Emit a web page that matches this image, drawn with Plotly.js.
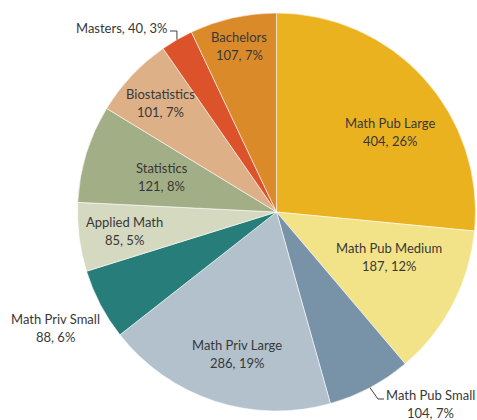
<!DOCTYPE html>
<html>
<head>
<meta charset="utf-8">
<script src="https://cdn.plot.ly/plotly-3.0.1.min.js"></script>
<style>html,body{margin:0;padding:0;background:#fff;}#chart{width:477px;height:420px;}</style>
</head>
<body>
<div id="chart"></div>
<script>
// ---- data ----
const categories = ["Math Pub Large","Math Pub Medium","Math Pub Small","Math Priv Large","Math Priv Small","Applied Math","Statistics","Biostatistics","Masters","Bachelors"];
const counts = [404,187,104,286,88,85,121,101,40,107];
const percentLabels = ["26%","12%","7%","19%","6%","5%","8%","7%","3%","7%"];

// ---- styles / layout ----
const colors = ["#EBB220","#F3E388","#7892A7","#B2C1CC","#267D7A","#D5D9C0","#A2AE86","#DEB088","#DC522A","#DB8A2A"];
const W = 477, H = 420;
const CX = 276.5, CY = 212, R = 199;   // pie centre/radius in pixels
const FONT = {family: "Lato, 'Open Sans', sans-serif", size: 13, color: "#383838"};
const LINE_GAP = 9;                      // half distance between two text lines
// inside label placement: radial distance (px) and angular shift (deg) from slice mid-angle
const insideLabel = {
  "Math Pub Large":  {r: 139, shift: 7},
  "Math Pub Medium": {r: 121, shift: -5.8},
  "Math Priv Large": {r: 147, shift: -2.4},
  "Applied Math":    {r: 153, shift: 0},
  "Statistics":      {r: 120, shift: 0},
  "Biostatistics":   {r: 159, shift: 0},
  "Bachelors":       {r: 170, shift: 0}
};
// outside label placement (pixels) and leader line elbows
const outsideLabel = {
  "Masters":         {x: 169, y: 28, anchor: "right", oneLine: true, leader: [[null, 31], [170, 31]]},
  "Math Pub Small":  {x: 430, y: 404, anchor: "center", leader: [[378, 399], [384, 399]]},
  "Math Priv Small": {x: 55.5, y: 328, anchor: "center"}
};

const px = x => x / W;
const py = y => 1 - y / H;

const total = counts.reduce((a,b)=>a+b,0);
let cum = 0;
const midAngles = counts.map(v => { const m = (cum + v/2) / total * 360; cum += v; return m; });
const polar = (r, deg) => [CX + r*Math.sin(deg*Math.PI/180), CY - r*Math.cos(deg*Math.PI/180)];

const annotations = [];
const shapes = [];
categories.forEach((c, i) => {
  const line1 = c, line2 = `${counts[i]}, ${percentLabels[i]}`;
  let x, y, anchor = "center";
  if (insideLabel[c]) {
    [x, y] = polar(insideLabel[c].r, midAngles[i] + insideLabel[c].shift);
  } else {
    const o = outsideLabel[c];
    x = o.x; y = o.y; anchor = o.anchor;
    if (o.leader) {
      const [sx, sy] = polar(R, midAngles[i]);
      let d = `M ${px(sx)} ${py(sy)}`;
      o.leader.forEach(([lx, ly]) => { d += ` L ${px(lx === null ? sx : lx)} ${py(ly)}`; });
      shapes.push({type: "path", xref: "paper", yref: "paper", path: d, line: {color: "#404040", width: 1}});
    }
    if (o.oneLine) {
      annotations.push({xref:"paper", yref:"paper", x: px(x), y: py(y), text: `${line1}, ${line2}`,
        showarrow:false, xanchor: anchor, yanchor:"middle", font: FONT});
      return;
    }
  }
  annotations.push({xref:"paper", yref:"paper", x: px(x), y: py(y - LINE_GAP), text: line1,
    showarrow:false, xanchor: anchor, yanchor:"middle", font: FONT});
  annotations.push({xref:"paper", yref:"paper", x: px(x), y: py(y + LINE_GAP), text: line2,
    showarrow:false, xanchor: "center", yanchor:"middle", font: FONT});
});

const trace = {
  type: "pie",
  labels: categories,
  values: counts,
  textinfo: "none",
  sort: false,
  direction: "clockwise",
  rotation: 0,
  marker: {colors: colors, line: {color: "rgba(255,255,255,0.7)", width: 0.8}},
  domain: {x: [px(CX - R), px(CX + R)], y: [1 - (CY + R)/H, 1 - (CY - R)/H]},
  hoverinfo: "none"
};

Plotly.newPlot("chart", [trace], {
  width: W, height: H,
  margin: {l:0, r:0, t:0, b:0},
  showlegend: false,
  paper_bgcolor: "#ffffff",
  annotations: annotations,
  shapes: shapes
}, {displayModeBar: false, staticPlot: true});
</script>
</body>
</html>
